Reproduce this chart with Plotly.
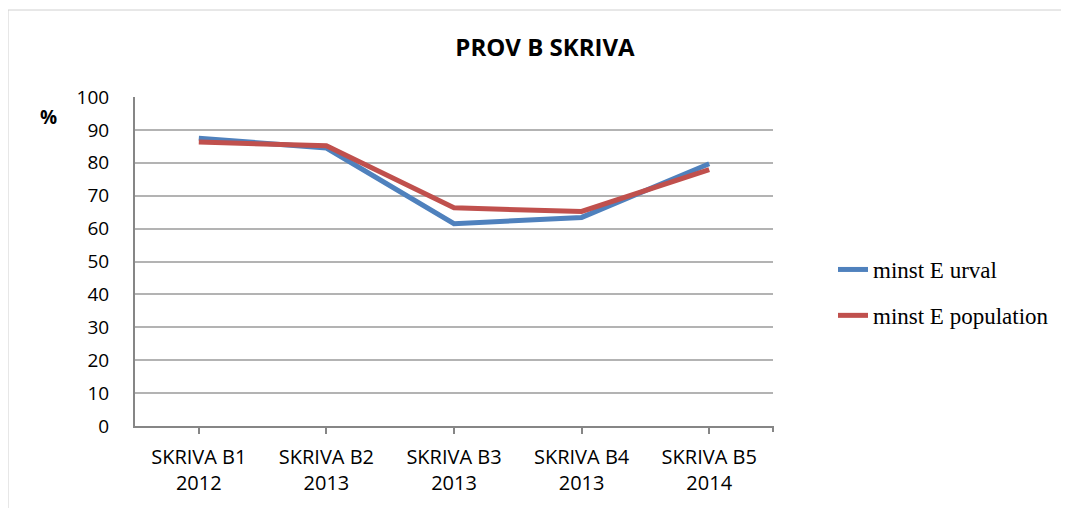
import plotly.graph_objects as go

categories = ["SKRIVA B1<br>2012", "SKRIVA B2<br>2013", "SKRIVA B3<br>2013",
              "SKRIVA B4<br>2013", "SKRIVA B5<br>2014"]
urval = [87.5, 84.5, 61.5, 63.4, 79.7]
population = [86.3, 85.2, 66.3, 65.2, 77.9]
series_names = ["minst E urval", "minst E population"]
y_ticks = [0, 10, 20, 30, 40, 50, 60, 70, 80, 90, 100]

SANS = "'Open Sans', Lato, sans-serif"
SERIF = "'Liberation Serif', 'Times New Roman', serif"

# page has an 8px body margin; figure is sized/offset to compensate
W, H = 1061, 500
L, T = 127, 89
PW, PH = 638, 329
R = W - L - PW
B = H - T - PH
BOTTOM = T + PH

fig = go.Figure()
fig.add_trace(go.Scatter(x=categories, y=urval, mode="lines", name=series_names[0],
                         line=dict(color="#4F81BD", width=5), legendgroup="a"))
fig.add_trace(go.Scatter(x=categories, y=population, mode="lines", name=series_names[1],
                         line=dict(color="#C0504D", width=5), legendgroup="b"))

fig.update_layout(
    width=W, height=H,
    margin=dict(l=L, r=R, t=T, b=B),
    paper_bgcolor="white", plot_bgcolor="white",
    title=dict(text="<b>PROV B SKRIVA</b>", x=537 / W, xanchor="center",
               y=1 - 40 / H, yanchor="middle",
               font=dict(family=SANS, size=24, color="black")),
    legend=dict(x=(825 - L) / PW, xanchor="left", y=(BOTTOM - 240) / PH, yanchor="top",
                font=dict(family=SERIF, size=23, color="black"),
                traceorder="grouped", tracegroupgap=13,
                bgcolor="rgba(0,0,0,0)"),
    showlegend=True,
)
fig.update_xaxes(
    type="category", showline=True, linecolor="#868686", linewidth=2,
    ticks="outside", ticklen=6, tickcolor="#868686", tickwidth=2,
    showgrid=False, tickfont=dict(family=SANS, size=20, color="black"),
    range=[-0.5, 4.5], ticklabelstandoff=6,
)
fig.update_yaxes(
    range=[0, 100], tickvals=y_ticks, showline=True, linecolor="#868686", linewidth=2,
    ticks="", showgrid=True, gridcolor="#b3b3b3", gridwidth=1.5,
    tickfont=dict(family=SANS, size=19, color="black"), ticklabelstandoff=20,
    zeroline=False,
)
fig.add_annotation(text="<b>%</b>", xref="paper", yref="paper",
                   x=(40 - L) / PW, y=(BOTTOM - 109) / PH, xanchor="center", yanchor="middle",
                   showarrow=False, font=dict(family=SANS, size=19, color="black"))
# end tick at the right edge of the x axis
fig.add_shape(type="line", xref="paper", yref="paper", x0=1, x1=1, y0=0, y1=-6 / PH,
              line=dict(color="#868686", width=2))
# outer chart frame
fig.add_shape(type="rect", xref="paper", yref="paper",
              x0=(0 - L) / PW, x1=(1200 - L) / PW,
              y0=(BOTTOM - 700) / PH, y1=(BOTTOM - 2) / PH,
              line=dict(color="#d0d0d0", width=1), fillcolor="rgba(0,0,0,0)", layer="below")

fig.write_html("out.html")
